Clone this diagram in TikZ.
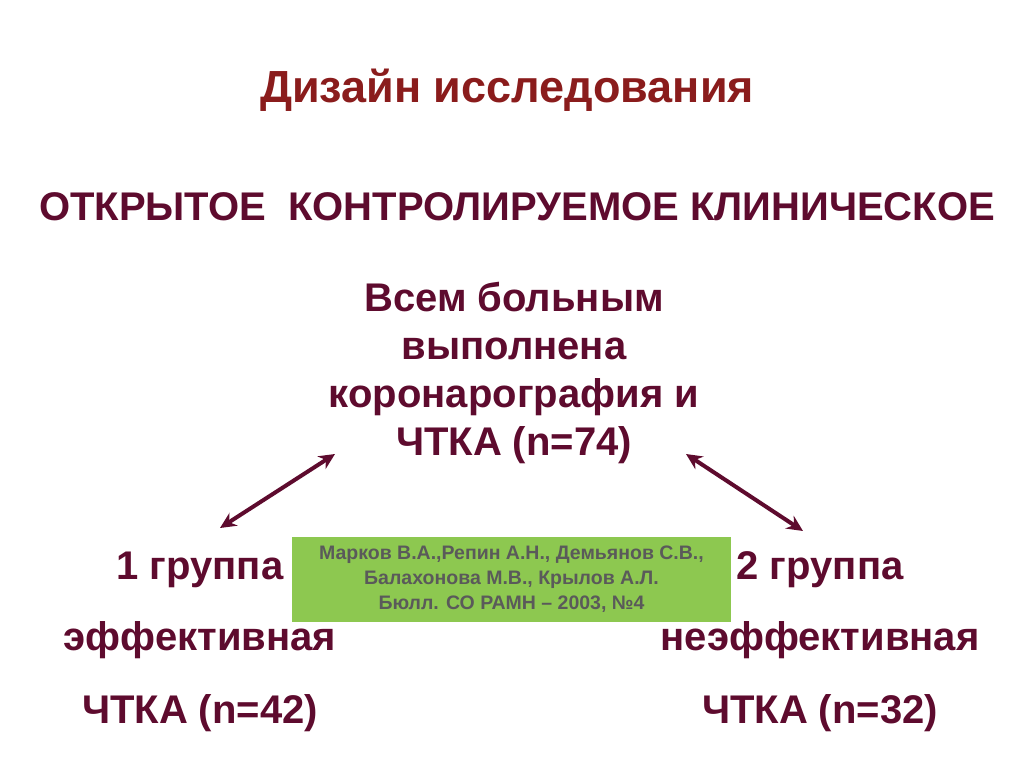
\documentclass[tikz,border=0pt]{standalone}
\usepackage{fontspec}
\usetikzlibrary{arrows.meta}
\setmainfont{Liberation Sans}
\definecolor{ttl}{HTML}{8A1C1C}
\definecolor{txt}{HTML}{5E0B2E}
\definecolor{grn}{HTML}{8DC850}
\definecolor{gtx}{HTML}{5A5A5A}
\begin{document}
\begin{tikzpicture}[x=1pt,y=-1pt,
  big/.style={font=\fontsize{40}{48}\selectfont\bfseries, text=txt, align=center, inner sep=0},
  arr/.style={draw=txt, line width=4pt, {Stealth[length=16pt,width=15pt]}-{Stealth[length=16pt,width=15pt]}}]
\useasboundingbox (0,0) rectangle (1024,767);
\fill[white] (0,0) rectangle (1024,767);
\node[font=\fontsize{45}{50}\selectfont\bfseries, text=ttl] (title) at (507,90) {Дизайн исследования};
\node[big] (type) at (517,207) {ОТКРЫТОЕ\ \ КОНТРОЛИРУЕМОЕ КЛИНИЧЕСКОЕ};
\node[big] (all) at (514,373) {Всем больным\\выполнена\\коронарография и\\ЧТКА (n=74)};
\node[big] (g1) at (200,570) {1 группа};
\node[big] (g1b) at (200,640) {эффективная};
\node[big] (g1c) at (200,713) {ЧТКА (n=42)};
\node[big] (g2) at (820,570) {2 группа};
\node[big] (g2b) at (820,640) {неэффективная};
\node[big] (g2c) at (820,713) {ЧТКА (n=32)};
\node[fill=grn, minimum width=439pt, minimum height=85pt, inner sep=0, align=center,
  text=gtx, font=\fontsize{19.5}{25}\selectfont\bfseries] (ref) at (511.5,579.5)
  {Марков В.А.,Репин А.Н., Демьянов С.В.,\\Балахонова М.В., Крылов А.Л.\\Бюлл. СО РАМН – 2003, №4};
\coordinate (a1) at (335,454);
\coordinate (b1) at (220,528);
\coordinate (a2) at (686,454);
\coordinate (b2) at (803,531);
\draw[arr] (a1) -- (b1);
\draw[arr] (a2) -- (b2);
\end{tikzpicture}
\end{document}
